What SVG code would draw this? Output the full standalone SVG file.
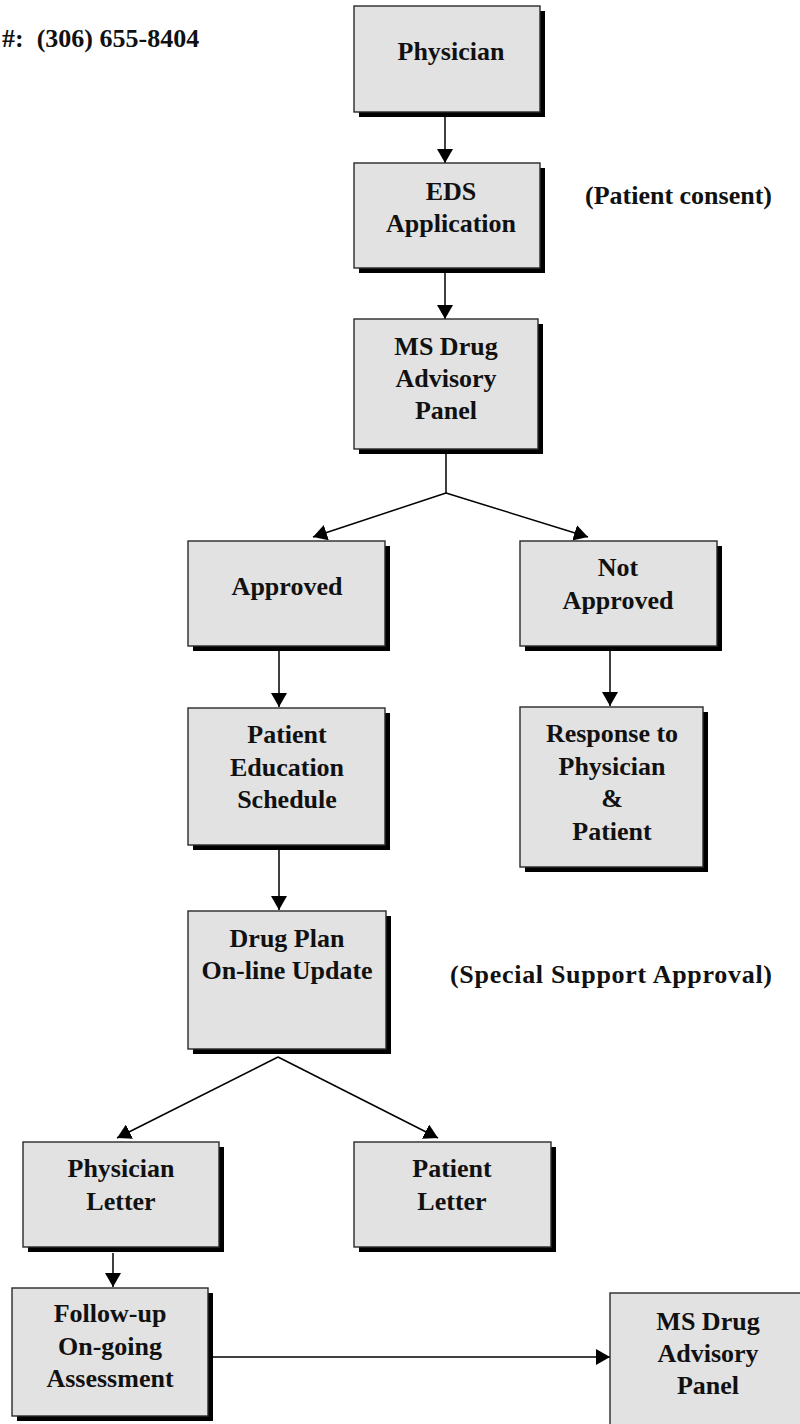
<svg xmlns="http://www.w3.org/2000/svg" width="800" height="1424" viewBox="0 0 800 1424">
<style>
  .shadow { fill: #000; }
  .box { fill: #e2e2e2; stroke: #2a2a2a; stroke-width: 1.4; }
  text { font-family: "Liberation Serif", "Times New Roman", serif; font-weight: bold; font-size: 26px; fill: #111; }
  .c { text-anchor: middle; }
  .conn line { stroke: #000; stroke-width: 1.5; fill: none; }
</style>
<defs>
  <marker id="ah" viewBox="0 0 14 16" refX="14" refY="8" markerWidth="14" markerHeight="16" markerUnits="userSpaceOnUse" orient="auto">
    <path d="M0,0 L14,8 L0,16 Z" fill="#000"/>
  </marker>
</defs>
<rect width="800" height="1424" fill="#fff"/>

<text x="2" y="47" xml:space="preserve">#:  (306) 655-8404</text>
<text x="772" y="204" text-anchor="end">(Patient consent)</text>
<text x="450" y="983" textLength="322" lengthAdjust="spacing">(Special Support Approval)</text>

<g class="conn">
  <line x1="445" y1="117" x2="445" y2="163" marker-end="url(#ah)"/>
  <line x1="445" y1="273" x2="445" y2="319" marker-end="url(#ah)"/>
  <line x1="446" y1="454" x2="446" y2="493"/>
  <line x1="446" y1="493" x2="313" y2="537" marker-end="url(#ah)"/>
  <line x1="446" y1="493" x2="588" y2="537" marker-end="url(#ah)"/>
  <line x1="279" y1="651" x2="279" y2="707" marker-end="url(#ah)"/>
  <line x1="610" y1="651" x2="610" y2="706" marker-end="url(#ah)"/>
  <line x1="279" y1="850" x2="279" y2="910" marker-end="url(#ah)"/>
  <line x1="278" y1="1057" x2="117" y2="1138" marker-end="url(#ah)"/>
  <line x1="278" y1="1057" x2="438" y2="1138" marker-end="url(#ah)"/>
  <line x1="113" y1="1253" x2="113" y2="1287" marker-end="url(#ah)"/>
  <line x1="213" y1="1357" x2="610" y2="1357" marker-end="url(#ah)"/>
</g>

<g id="physician">
  <rect class="shadow" x="359" y="11" width="186" height="106"/>
  <rect class="box" x="354" y="6" width="186" height="106"/>
  <text class="c" x="451" y="60">Physician</text>
</g>
<g id="eds">
  <rect class="shadow" x="359" y="168" width="186" height="105"/>
  <rect class="box" x="354" y="163" width="186" height="105"/>
  <text class="c" x="451" y="200">EDS</text>
  <text class="c" x="451" y="232">Application</text>
</g>
<g id="panel1">
  <rect class="shadow" x="359" y="324" width="184" height="130"/>
  <rect class="box" x="354" y="319" width="184" height="130"/>
  <text class="c" x="446" y="355">MS Drug</text>
  <text class="c" x="446" y="387">Advisory</text>
  <text class="c" x="446" y="419">Panel</text>
</g>
<g id="approved">
  <rect class="shadow" x="193" y="546" width="197" height="105"/>
  <rect class="box" x="188" y="541" width="197" height="105"/>
  <text class="c" x="287" y="595">Approved</text>
</g>
<g id="not-approved">
  <rect class="shadow" x="525" y="546" width="197" height="105"/>
  <rect class="box" x="520" y="541" width="197" height="105"/>
  <text class="c" x="618" y="576">Not</text>
  <text class="c" x="618" y="609">Approved</text>
</g>
<g id="patient-education">
  <rect class="shadow" x="193" y="713" width="197" height="137"/>
  <rect class="box" x="188" y="708" width="197" height="137"/>
  <text class="c" x="287" y="743">Patient</text>
  <text class="c" x="287" y="776">Education</text>
  <text class="c" x="287" y="808">Schedule</text>
</g>
<g id="response">
  <rect class="shadow" x="525" y="712" width="183" height="160"/>
  <rect class="box" x="520" y="707" width="183" height="160"/>
  <text class="c" x="612" y="742">Response to</text>
  <text class="c" x="612" y="775">Physician</text>
  <text class="c" x="612" y="807">&amp;</text>
  <text class="c" x="612" y="840">Patient</text>
</g>
<g id="drug-plan">
  <rect class="shadow" x="193" y="916" width="198" height="138"/>
  <rect class="box" x="188" y="911" width="198" height="138"/>
  <text class="c" x="287" y="947">Drug Plan</text>
  <text class="c" x="287" y="979">On-line Update</text>
</g>
<g id="physician-letter">
  <rect class="shadow" x="28" y="1147" width="196" height="105"/>
  <rect class="box" x="23" y="1142" width="196" height="105"/>
  <text class="c" x="121" y="1177">Physician</text>
  <text class="c" x="121" y="1210">Letter</text>
</g>
<g id="patient-letter">
  <rect class="shadow" x="359" y="1147" width="197" height="105"/>
  <rect class="box" x="354" y="1142" width="197" height="105"/>
  <text class="c" x="452" y="1177">Patient</text>
  <text class="c" x="452" y="1210">Letter</text>
</g>
<g id="follow-up">
  <rect class="shadow" x="17" y="1293" width="196" height="128"/>
  <rect class="box" x="12" y="1288" width="196" height="128"/>
  <text class="c" x="110" y="1322">Follow-up</text>
  <text class="c" x="110" y="1355">On-going</text>
  <text class="c" x="110" y="1387">Assessment</text>
</g>
<g id="panel2">
  <rect class="box" x="610" y="1293" width="200" height="140"/>
  <text class="c" x="708" y="1330">MS Drug</text>
  <text class="c" x="708" y="1362">Advisory</text>
  <text class="c" x="708" y="1394">Panel</text>
</g>
</svg>
